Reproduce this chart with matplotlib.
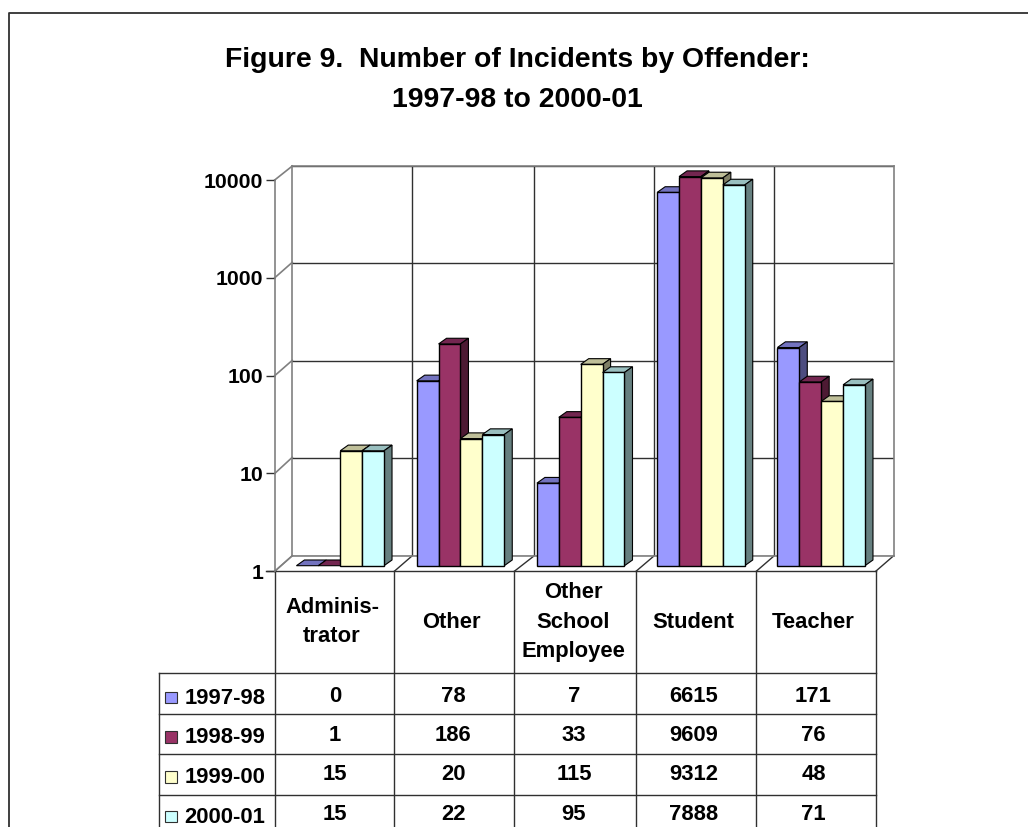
import numpy as np
import matplotlib
matplotlib.use("Agg")
import matplotlib.pyplot as plt
from matplotlib.patches import Polygon, Rectangle

plt.rcParams["font.family"] = ["Liberation Sans", "DejaVu Sans"]
plt.rcParams["font.weight"] = "bold"

W, H = 1028, 827

categories = ["Adminis-\ntrator", "Other", "Other\nSchool\nEmployee", "Student", "Teacher"]
series = ["1997-98", "1998-99", "1999-00", "2000-01"]
y9798 = [0, 78, 7, 6615, 171]
y9899 = [1, 186, 33, 9609, 76]
y9900 = [15, 20, 115, 9312, 48]
y0001 = [15, 22, 95, 7888, 71]
values = [y9798, y9899, y9900, y0001]
yticks = [1, 10, 100, 1000, 10000]

colors = ["#9999FF", "#993366", "#FFFFCC", "#CCFFFF"]
top_colors = ["#7373BF", "#732650", "#BFBF99", "#99BFBF"]
side_colors = ["#4D4D80", "#4D1A33", "#808066", "#668080"]

LINE = "#303030"
FS = 15.8


def px_axes(left, right, top, bottom, **kw):
    # axes placed from reference pixel coordinates
    return fig.add_axes([left / W, 1 - bottom / H, (right - left) / W, (bottom - top) / H], **kw)


fig = plt.figure(figsize=(W / 100, H / 100), dpi=100)

# overlay in pixels for the frame, floor and table
bg = fig.add_axes([0, 0, 1, 1], zorder=0)
bg.set_xlim(0, W)
bg.set_ylim(H, 0)
bg.axis("off")

front_x = [274.7, 394.3, 514.3, 636, 756.3, 875.7]
back_x = [292.3, 412.3, 534.3, 654.3, 774.3, 893.7]

# back wall with the gridlines
wall = px_axes(292.3, 893.7, 166, 555.7, zorder=1)
wall.set_yscale("log")
wall.set_ylim(1, 10000)
wall.set_xlim(back_x[0], back_x[-1])
wall.set_yticks(yticks)
wall.minorticks_off()
wall.set_xticks(back_x[1:-1])
wall.grid(True, color=LINE, lw=1)
wall.tick_params(length=0, labelleft=False, labelbottom=False)
for s in wall.spines.values():
    s.set_color("#808080")
    s.set_linewidth(1.2)
wall.patch.set_alpha(0)

# front plane: value axis with tick labels (length and pad are in points)
front = px_axes(274.7, 875.7, 180, 571.3, zorder=2)
front.set_yscale("log")
front.set_ylim(1, 10000)
front.set_xlim(0, 5)
front.set_yticks(yticks, [str(t) for t in yticks])
front.minorticks_off()
front.set_xticks([])
front.tick_params(axis="y", length=6.3, width=1, pad=1.9, labelsize=15.3, color=LINE)
for name, s in front.spines.items():
    s.set_visible(name == "left")
front.spines["left"].set_color("#808080")
front.spines["left"].set_linewidth(1.2)
front.patch.set_alpha(0)

# left wall and floor diagonals
front_y = [571.3, 473.5, 375.7, 277.8, 180]
back_y = [555.7, 457.3, 360.3, 262.3, 166]
for fy, by in zip(front_y, back_y):
    bg.plot([274.7, 292.3], [fy, by], color="#808080", lw=1.2)
for fx, bx in zip(front_x, back_x):
    bg.plot([fx, bx], [571.3, 555.7], color=LINE if fx > 274.7 else "#808080", lw=1)

# bars, in the plane between wall and front
ax = px_axes(280.1, 881.3, 174.9, 565.7, zorder=3)
ax.set_yscale("log")
ax.set_ylim(1, 10000)
ax.set_xlim(-0.5, 4.5)
ax.axis("off")

bar_w = 21.9 / 120.25
dx = 8 / 120.25
fy = 10 ** (5.7 / 97.7)
for j, vals in enumerate(values):
    off = (j - 1.5) * bar_w
    for i, v in enumerate(vals):
        v = max(v, 1)
        x0 = i + off - bar_w / 2
        x1 = x0 + bar_w
        ax.add_patch(Polygon([(x0, v), (x1, v), (x1 + dx, v * fy), (x0 + dx, v * fy)],
                             fc=top_colors[j], ec="#000000", lw=0.8, clip_on=False, zorder=3 + j))
        if v > 1:
            ax.add_patch(Polygon([(x1, 1), (x1 + dx, fy), (x1 + dx, v * fy), (x1, v)],
                                 fc=side_colors[j], ec="#000000", lw=0.8, clip_on=False, zorder=3 + j))
    heights = [max(v, 1) - 1 for v in vals]
    bars = ax.bar(np.arange(5) + off, heights, width=bar_w, bottom=1,
                  color=colors[j], edgecolor="#000000", linewidth=1, zorder=3 + j)
    for b, v in zip(bars, vals):
        b.set_clip_on(False)
        b.set_visible(v > 1)

# frame, open on the right and at the bottom
bg.plot([8.7, 8.7, W], [H, 12.7, 12.7], color=LINE, lw=1.3)

# table rules
bg.plot([266, 875.7], [571.3, 571.3], color=LINE, lw=1)
row_y = [673.3, 714.3, 754.3, 794.7]
for ry in row_y:
    bg.plot([159, 875.7], [ry, ry], color=LINE, lw=1)
for x in front_x:
    bg.plot([x, x], [571.3, H], color=LINE, lw=1)
bg.plot([159, 159], [673.3, H], color=LINE, lw=1)

# table text
label_c = [332, 451.5, 573, 693.5, 813.5]
col_c = [335, 453, 574, 693.5, 813.5]
for xc, c in zip(label_c, categories):
    bg.text(xc, 622, c, ha="center", va="center", fontsize=FS, linespacing=1.5)
name_y = [698.7, 737.7, 777.7, 817.7]
val_y = [696.5, 735.5, 774.8, 814.8]
key_y = [691.7, 731, 771, 810.7]
for j, (name, vals) in enumerate(zip(series, values)):
    bg.add_patch(Rectangle((164.7, key_y[j]), 12, 11.5, fc=colors[j], ec=LINE, lw=0.8))
    bg.text(265.5, name_y[j], name, ha="right", va="center", fontsize=FS)
    for xc, v in zip(col_c, vals):
        bg.text(xc, val_y[j], str(v), ha="center", va="center", fontsize=FS)

# title
bg.text(517.5, 67, "Figure 9.  Number of Incidents by Offender:", ha="center", va="baseline", fontsize=20.45)
bg.text(517.5, 107, "1997-98 to 2000-01", ha="center", va="baseline", fontsize=20.45)

fig.savefig("out.png", dpi=100)
